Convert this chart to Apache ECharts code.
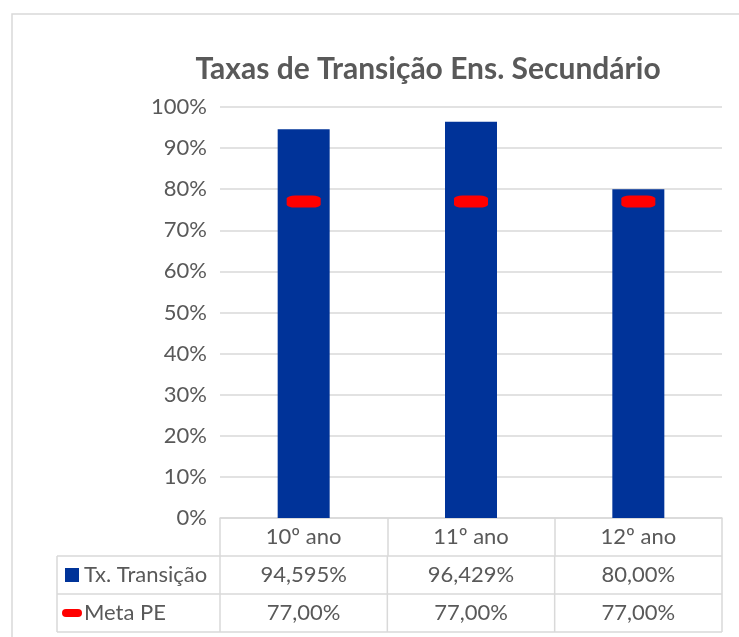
<!DOCTYPE html>
<html>
<head>
<meta charset="utf-8">
<script src="https://cdn.jsdelivr.net/npm/echarts@6/dist/echarts.min.js"></script>
<style>
    html, body { margin: 0; padding: 0; background: #fff; }
    #chart { width: 739px; height: 637px; }
</style>
</head>
<body>
<div id="chart"></div>
<script>
// dados do gráfico
var anos = ['10º ano', '11º ano', '12º ano'];
var txTransicao = [94.595, 96.429, 80.00];
var txDecimais = [3, 3, 2];
var metaPE = [77.00, 77.00, 77.00];
var metaDecimais = [2, 2, 2];
var nomesSeries = ['Tx. Transição', 'Meta PE'];
var ticksY = [0, 10, 20, 30, 40, 50, 60, 70, 80, 90, 100];

var corBarra = '#003399';
var corMeta = '#ff0000';
var corTexto = '#595959';
var corLinha = '#d9d9d9';
var fonte = 'Lato, "Open Sans", sans-serif';
var tamFonte = 22;

function fmt(v, d) {
    return v.toFixed(d).replace('.', ',') + '%';
}

var chart = echarts.init(document.getElementById('chart'));

var option = {
    animation: false,
    backgroundColor: '#fff',
    title: {
        text: 'Taxas de Transição Ens. Secundário',
        left: 423,
        top: 49,
        textAlign: 'center',
        textStyle: { fontFamily: fonte, fontSize: 30, fontWeight: 'bold', color: corTexto }
    },
    grid: { left: 220, right: 17, top: 107, bottom: 119 },
    xAxis: {
        type: 'category',
        data: anos,
        axisLine: { lineStyle: { color: corLinha, width: 1.5 } },
        axisTick: { show: true, length: 38, lineStyle: { color: corLinha, width: 1.5 } },
        axisLabel: { margin: 8, fontFamily: fonte, fontSize: tamFonte, color: corTexto }
    },
    yAxis: {
        type: 'value',
        min: ticksY[0],
        max: ticksY[ticksY.length - 1],
        interval: 10,
        axisLine: { show: false },
        axisTick: { show: false },
        splitLine: { lineStyle: { color: corLinha, width: 1.5 } },
        axisLabel: {
            margin: 13,
            fontFamily: fonte,
            fontSize: tamFonte,
            color: corTexto,
            formatter: function (v) { return v + '%'; }
        }
    },
    series: [
        {
            name: nomesSeries[0],
            type: 'bar',
            data: txTransicao,
            barWidth: 52,
            itemStyle: { color: corBarra }
        },
        {
            name: nomesSeries[1],
            type: 'scatter',
            data: metaPE,
            symbol: 'roundRect',
            symbolSize: [34, 12],
            itemStyle: { color: corMeta, opacity: 1 },
            emphasis: { disabled: true },
            z: 5
        }
    ]
};
chart.setOption(option);

// tabela de dados por baixo do gráfico
function desenharTabela() {
    var c0 = chart.convertToPixel({ xAxisIndex: 0 }, 0);
    var c1 = chart.convertToPixel({ xAxisIndex: 0 }, 1);
    var banda = c1 - c0;
    var x0 = c0 - banda / 2;
    var xFim = x0 + banda * anos.length;
    var yTopo = chart.convertToPixel({ yAxisIndex: 0 }, 0);
    var alt = 38;
    var xEsq = 57;
    var linhas = [
        { y: yTopo + alt, valores: txTransicao, dec: txDecimais },
        { y: yTopo + alt * 2, valores: metaPE, dec: metaDecimais }
    ];
    var els = [];
    var estiloLinha = { stroke: corLinha, lineWidth: 1.5 };

    // moldura do gráfico
    els.push({ type: 'rect', shape: { x: 12, y: 14, width: 800, height: 700 },
        style: { fill: null, stroke: corLinha, lineWidth: 1.5 }, z: -1 });

    // linhas horizontais
    for (var r = 0; r <= linhas.length; r++) {
        var yy = yTopo + alt * (r + 1);
        els.push({ type: 'line', shape: { x1: xEsq, y1: yy, x2: xFim, y2: yy }, style: estiloLinha });
    }
    // linhas verticais
    els.push({ type: 'line', shape: { x1: xEsq, y1: yTopo + alt, x2: xEsq, y2: yTopo + alt * 3 }, style: estiloLinha });
    for (var k = 0; k <= anos.length; k++) {
        var xx = x0 + banda * k;
        els.push({ type: 'line', shape: { x1: xx, y1: yTopo + alt, x2: xx, y2: yTopo + alt * 3 }, style: estiloLinha });
    }

    linhas.forEach(function (ln, i) {
        var yc = ln.y + alt / 2;
        // chave da legenda
        if (i === 0) {
            els.push({ type: 'rect', shape: { x: 65, y: yc - 7, width: 14, height: 14 }, style: { fill: corBarra } });
        } else {
            els.push({ type: 'rect', shape: { x: 62, y: yc - 4, width: 20, height: 8, r: 4 }, style: { fill: corMeta } });
        }
        els.push({ type: 'text', x: 84, y: yc, style: {
            text: nomesSeries[i], fontFamily: fonte, fontSize: tamFonte, fill: corTexto,
            textAlign: 'left', textVerticalAlign: 'middle' } });
        ln.valores.forEach(function (v, j) {
            els.push({ type: 'text', x: x0 + banda * (j + 0.5), y: yc, style: {
                text: fmt(v, ln.dec[j]), fontFamily: fonte, fontSize: tamFonte, fill: corTexto,
                textAlign: 'center', textVerticalAlign: 'middle' } });
        });
    });

    chart.setOption({ graphic: { elements: els } });
}
desenharTabela();
</script>
</body>
</html>
